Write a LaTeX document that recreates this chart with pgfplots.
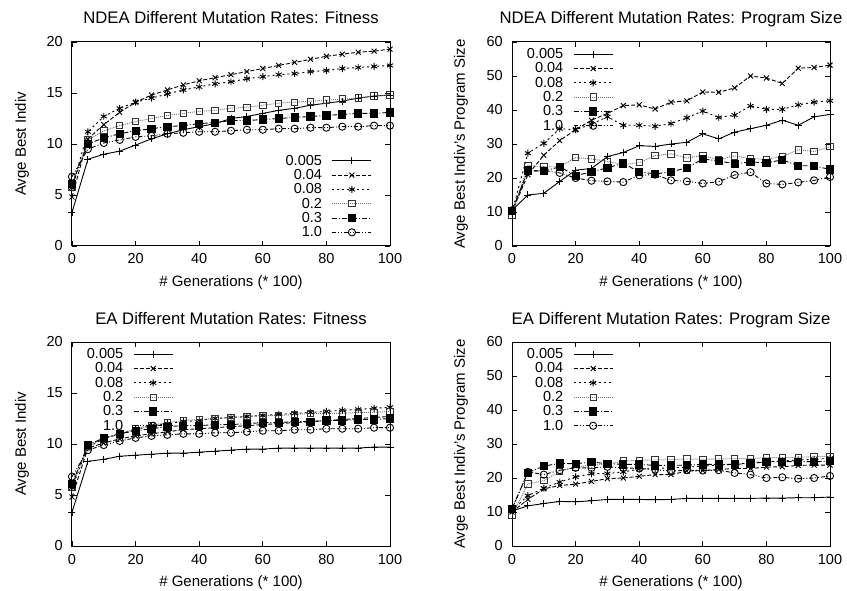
\documentclass[border=0pt]{standalone}
\usepackage{pgfplots}
\usepackage{pgfplotstable}
\pgfplotsset{compat=1.18}
\usepackage{fontspec}
\setmainfont{Liberation Sans}

\pgfplotstableread{
x a b c d e f
0 3.3 4.8 5.7 5.8 6.1 6.8
5 8.5 10.5 11.2 10.4 10.0 9.5
10 9.0 11.9 12.7 11.3 10.6 10.1
15 9.3 13.1 13.5 11.8 11.0 10.4
20 9.9 14.1 14.1 12.2 11.3 10.7
25 10.5 14.8 14.5 12.5 11.5 10.8
30 11.0 15.3 14.9 12.8 11.7 11.0
35 11.4 15.8 15.3 13.0 11.8 11.1
40 11.7 16.2 15.6 13.2 12.0 11.2
45 12.0 16.5 15.9 13.3 12.1 11.2
50 12.5 16.8 16.1 13.5 12.3 11.3
55 12.7 17.1 16.4 13.6 12.3 11.4
60 13.0 17.4 16.6 13.8 12.4 11.4
65 13.3 17.7 16.8 14.0 12.5 11.5
70 13.5 18.0 16.9 14.1 12.6 11.5
75 13.8 18.3 17.1 14.2 12.7 11.6
80 14.0 18.6 17.2 14.3 12.8 11.6
85 14.2 18.8 17.4 14.4 12.9 11.7
90 14.5 19.0 17.5 14.5 13.0 11.7
95 14.7 19.1 17.6 14.7 13.0 11.8
100 14.8 19.3 17.7 14.8 13.1 11.8
}\nf

\pgfplotstableread{
x a b c d e f
0 10.5 10.0 10.0 9.0 10.2 10.5
5 15.0 21.0 27.3 23.7 22.2 22.0
10 15.5 26.7 30.2 23.3 22.0 22.2
15 19.0 31.0 34.5 23.3 23.3 21.5
20 22.3 34.2 34.2 26.0 20.7 20.0
25 22.8 37.0 35.8 25.6 21.8 19.2
30 26.3 39.0 38.0 24.9 23.0 19.0
35 27.5 41.3 35.5 24.0 24.3 18.8
40 29.5 41.5 35.5 24.5 21.8 20.8
45 29.3 40.3 35.2 26.6 21.2 21.0
50 30.0 42.3 36.0 27.1 21.8 19.3
55 30.5 42.7 37.7 25.9 23.0 19.0
60 33.0 45.3 39.7 26.6 25.6 18.4
65 31.5 45.2 37.8 25.3 25.0 18.9
70 33.5 46.5 38.5 26.5 24.2 20.9
75 34.5 50.0 41.2 25.7 24.7 21.7
80 35.5 49.4 40.2 25.5 24.5 18.4
85 37.0 47.8 40.2 26.3 25.3 18.1
90 35.5 52.3 41.5 28.3 23.6 18.7
95 38.0 52.5 42.3 27.8 23.6 19.3
100 38.7 53.2 42.7 29.2 22.5 20.3
}\ns

\pgfplotstableread{
x a b c d e f
0 3.3 4.8 5.7 5.8 6.1 6.8
5 8.3 9.6 9.7 9.8 9.9 9.4
10 8.5 10.1 10.5 10.5 10.6 9.9
15 8.8 10.5 11.0 11.0 11.0 10.3
20 8.9 10.8 11.4 11.5 11.3 10.6
25 9.0 11.0 11.8 11.8 11.5 10.8
30 9.1 11.2 12.0 12.1 11.7 10.9
35 9.1 11.4 12.2 12.3 11.8 11.0
40 9.2 11.5 12.3 12.4 11.8 11.0
45 9.3 11.6 12.5 12.5 11.9 11.1
50 9.4 11.7 12.6 12.6 11.9 11.1
55 9.5 11.8 12.7 12.7 12.0 11.2
60 9.5 11.9 12.8 12.8 12.1 11.3
65 9.6 12.0 12.9 12.8 12.1 11.3
70 9.6 12.1 13.0 12.9 12.2 11.4
75 9.6 12.2 13.1 13.0 12.2 11.4
80 9.6 12.3 13.2 13.0 12.3 11.5
85 9.6 12.4 13.3 13.0 12.3 11.5
90 9.6 12.5 13.4 13.1 12.4 11.5
95 9.7 12.6 13.5 13.1 12.4 11.6
100 9.7 12.7 13.6 13.2 12.5 11.6
}\ef

\pgfplotstableread{
x a b c d e f
0 10.3 10.0 10.5 9.0 11.0 10.8
5 11.8 13.7 14.8 18.3 21.6 21.8
10 12.5 16.8 17.0 19.2 23.5 21.0
15 13.1 17.8 18.8 22.0 24.3 22.3
20 13.0 18.2 20.3 23.2 24.2 23.0
25 13.3 19.0 21.3 23.8 24.7 23.0
30 13.7 19.8 21.3 24.0 24.2 23.3
35 13.7 20.0 21.8 25.0 24.0 23.0
40 13.7 20.5 22.6 25.2 24.0 22.8
45 13.6 21.0 22.8 25.3 23.7 22.5
50 13.7 21.0 23.0 25.4 23.7 22.0
55 14.0 22.0 23.2 25.6 23.8 22.3
60 14.0 22.2 23.5 25.5 24.0 22.2
65 14.0 22.5 23.8 25.6 24.0 22.3
70 14.0 22.8 24.0 25.7 24.0 21.5
75 14.0 22.8 24.5 25.7 24.3 21.0
80 14.1 23.2 24.8 26.0 24.7 20.0
85 14.1 23.3 25.0 26.0 24.8 20.2
90 14.2 23.7 25.3 26.1 24.8 19.8
95 14.2 23.8 25.5 26.3 24.8 20.0
100 14.4 23.8 25.8 26.4 24.9 20.6
}\es

\pgfplotsset{
  sA/.style={black, line width=0.9pt, solid, mark=+, mark size=3.5pt, mark options={solid}},
  sB/.style={black, line width=0.9pt, dash pattern=on 4pt off 2pt, mark=x, mark size=3.5pt, mark options={solid}},
  sC/.style={black, line width=0.9pt, dash pattern=on 2pt off 3pt, mark=asterisk, mark size=3.5pt, mark options={solid}},
  sD/.style={black!55, line width=0.9pt, dash pattern=on 1pt off 1pt, mark=square, mark size=3.2pt, mark options={solid, black!80}},
  sE/.style={black, line width=0.9pt, dash pattern=on 5pt off 2pt on 1pt off 2pt, mark=square*, mark size=3.6pt, mark options={solid}},
  sF/.style={black, line width=0.9pt, dash pattern=on 4pt off 2pt on 1pt off 2pt on 1pt off 2pt, mark=o, mark size=3.6pt, mark options={solid}},
  panel/.style={
    width=318pt, height=204pt, scale only axis,
    xmin=0, xmax=100, xtick={0,20,...,100},
    tick align=inside, major tick length=5pt,
    axis line style={line width=1pt},
    every tick/.style={black, line width=0.8pt},
    /pgf/number format/assume math mode=true,
    tick label style={font=\fontsize{14.5}{16}\selectfont},
    xticklabel style={anchor=base, inner sep=0pt, yshift=-18pt},
    yticklabel style={anchor=east, inner sep=0pt, xshift=-9pt},
    label style={font=\fontsize{15}{17}\selectfont},
    xlabel={\# Generations (* 100)},
    xlabel style={at={(axis description cs:0.5,-0.181)}, anchor=center},
    every axis title/.style={at={(axis description cs:0.5,1)}, anchor=base, inner sep=0pt, yshift=18pt, font=\fontsize{16.7}{18}\selectfont},
    legend cell align=right,
    legend plot pos=right,
    legend image code/.code={\draw[mark repeat=2,mark phase=2,##1] plot coordinates {(0pt,0pt) (19.5pt,0pt) (39pt,0pt)};},
    legend style={draw=none, fill=none, inner sep=0pt, outer sep=0pt, column sep=10pt, row sep=0pt,
      font=\fontsize{14.5}{16}\selectfont,
      nodes={inner sep=0pt, text height=11.5pt, text depth=2.8pt}},
  },
}

\begin{document}
\begin{tikzpicture}
\useasboundingbox (0,0) rectangle (847pt,590pt);

\begin{axis}[panel, at={(72pt,344pt)}, anchor=south west,
  ymin=0, ymax=20, ytick={0,5,...,20},
  title={NDEA Different Mutation Rates: Fitness},
  ylabel={Avge Best Indiv},
  ylabel style={at={(axis description cs:-0.157,0.5)}, anchor=center},
  legend style={at={(0.943,0.032)}, anchor=south east}]
\addplot[sA] table[x=x,y=a] {\nf}; \addlegendentry{0.005}
\addplot[sB] table[x=x,y=b] {\nf}; \addlegendentry{0.04}
\addplot[sC] table[x=x,y=c] {\nf}; \addlegendentry{0.08}
\addplot[sD] table[x=x,y=d] {\nf}; \addlegendentry{0.2}
\addplot[sE] table[x=x,y=e] {\nf}; \addlegendentry{0.3}
\addplot[sF] table[x=x,y=f] {\nf}; \addlegendentry{1.0}
\end{axis}

\begin{axis}[panel, at={(512pt,344pt)}, anchor=south west,
  ymin=0, ymax=60, ytick={0,10,...,60},
  title={NDEA Different Mutation Rates: Program Size},
  ylabel={Avge Best Indiv's Program Size},
  ylabel style={at={(axis description cs:-0.160,0.5)}, anchor=center},
  legend style={at={(0.318,0.975)}, anchor=north east}]
\addplot[sA] table[x=x,y=a] {\ns}; \addlegendentry{0.005}
\addplot[sB] table[x=x,y=b] {\ns}; \addlegendentry{0.04}
\addplot[sC] table[x=x,y=c] {\ns}; \addlegendentry{0.08}
\addplot[sD] table[x=x,y=d] {\ns}; \addlegendentry{0.2}
\addplot[sE] table[x=x,y=e] {\ns}; \addlegendentry{0.3}
\addplot[sF] table[x=x,y=f] {\ns}; \addlegendentry{1.0}
\end{axis}

\begin{axis}[panel, at={(72pt,44pt)}, anchor=south west,
  ymin=0, ymax=20, ytick={0,5,...,20},
  title={EA Different Mutation Rates: Fitness},
  ylabel={Avge Best Indiv},
  ylabel style={at={(axis description cs:-0.157,0.5)}, anchor=center},
  legend style={at={(0.318,0.975)}, anchor=north east}]
\addplot[sA] table[x=x,y=a] {\ef}; \addlegendentry{0.005}
\addplot[sB] table[x=x,y=b] {\ef}; \addlegendentry{0.04}
\addplot[sC] table[x=x,y=c] {\ef}; \addlegendentry{0.08}
\addplot[sD] table[x=x,y=d] {\ef}; \addlegendentry{0.2}
\addplot[sE] table[x=x,y=e] {\ef}; \addlegendentry{0.3}
\addplot[sF] table[x=x,y=f] {\ef}; \addlegendentry{1.0}
\end{axis}

\begin{axis}[panel, at={(512pt,44pt)}, anchor=south west,
  ymin=0, ymax=60, ytick={0,10,...,60},
  title={EA Different Mutation Rates: Program Size},
  ylabel={Avge Best Indiv's Program Size},
  ylabel style={at={(axis description cs:-0.160,0.5)}, anchor=center},
  legend style={at={(0.318,0.975)}, anchor=north east}]
\addplot[sA] table[x=x,y=a] {\es}; \addlegendentry{0.005}
\addplot[sB] table[x=x,y=b] {\es}; \addlegendentry{0.04}
\addplot[sC] table[x=x,y=c] {\es}; \addlegendentry{0.08}
\addplot[sD] table[x=x,y=d] {\es}; \addlegendentry{0.2}
\addplot[sE] table[x=x,y=e] {\es}; \addlegendentry{0.3}
\addplot[sF] table[x=x,y=f] {\es}; \addlegendentry{1.0}
\end{axis}
\end{tikzpicture}
\end{document}
